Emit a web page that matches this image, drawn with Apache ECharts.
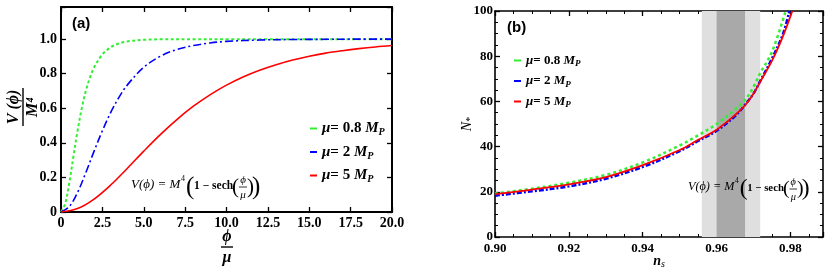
<!DOCTYPE html>
<html><head><meta charset="utf-8">
<script src="https://cdn.jsdelivr.net/npm/echarts@6/dist/echarts.min.js"></script>
<style>html,body{margin:0;padding:0;background:#fff}#c{width:830px;height:274px}</style>
</head><body><div id="c"></div>
<script>
// ---------- Panel (a): V(phi)/M^4 vs phi ----------
const greenPhi = [0,0.25,0.5,0.75,1,1.25,1.5,1.75,2,2.5,3,3.5,4,5,6,8,10,12.5,15,17.5,20];
const greenV   = [0,0.047,0.168,0.321,0.470,0.598,0.700,0.778,0.837,0.912,0.953,0.975,0.987,0.996,0.999,1,1,1,1,1,1];
const bluePhi  = [0,0.5,1,1.5,2,2.5,3,3.5,4,5,6,7,8,9,10,12,14,16,18,20];
const blueV    = [0,0.031,0.113,0.228,0.352,0.470,0.575,0.663,0.734,0.837,0.901,0.940,0.963,0.978,0.987,0.995,0.998,0.999,1,1];
const redPhi   = [0,1,2,3,4,5,6,7,8,9,10,11,12,13,14,15,16,17,18,19,20];
const redV     = [0,0.020,0.075,0.156,0.252,0.352,0.448,0.535,0.612,0.678,0.734,0.781,0.820,0.852,0.879,0.901,0.919,0.933,0.945,0.955,0.963];
const xTicksA  = [0,2.5,5,7.5,10,12.5,15,17.5,20];
const yTicksA  = [0,0.2,0.4,0.6,0.8,1.0];

// ---------- Panel (b): N* vs n_s ----------
const greenNs = [0.90,0.91,0.92,0.93,0.94,0.95,0.955,0.96,0.965,0.9677,0.97,0.9718,0.975,0.9787];
const greenN  = [19.2,21.4,24.0,27.5,33.0,40.5,45.0,50.0,56.5,60.6,66.5,72.5,82.0,100];
const blueNs  = [0.90,0.91,0.92,0.93,0.94,0.95,0.955,0.96,0.965,0.9677,0.97,0.9718,0.975,0.978,0.9797];
const blueN   = [18.3,20.2,22.4,25.8,31.0,38.0,42.5,47.0,53.5,58.5,63.5,69.0,79.0,90.0,100];
const redNs   = [0.90,0.91,0.92,0.93,0.94,0.95,0.955,0.96,0.965,0.9677,0.97,0.9718,0.975,0.978,0.9805];
const redN    = [19.0,21.0,23.3,26.5,31.8,38.5,43.0,47.5,54.0,58.3,63.5,68.7,78.0,89.0,100];
const bandOuter = [0.956, 0.9718];
const bandInner = [0.960, 0.9677];

const legendA = ['μ= 0.8 MP','μ= 2 MP','μ= 5 MP'];
const legendB = ['μ= 0.8 MP ','μ= 2 MP ','μ= 5 MP '];
const legendRich = ['{m|μ}{b|= 0.8 }{m|M}{s|P}','{m|μ}{b|= 2 }{m|M}{s|P}','{m|μ}{b|= 5 }{m|M}{s|P}'];

const SERIF = '"Liberation Serif","Times New Roman",serif';
const SANS = '"Liberation Sans",Arial,sans-serif';
const GREEN = '#33ee33', BLUE = '#0000ff', RED = '#ff0000';

const zip = (xs, ys) => xs.map((x, i) => [x, ys[i]]);

function axis(o) {
  return Object.assign({
    type: 'value',
    splitLine: {show: false},
    axisLine: {show: true, onZero: false, lineStyle: {color: '#000', width: 2}},
    axisTick: {show: true, inside: true, length: 5, lineStyle: {color: '#000', width: 1.3}},
    axisLabel: {show: true, color: '#000', fontFamily: SERIF, fontWeight: 'bold', fontSize: 14}
  }, o);
}

const chart = echarts.init(document.getElementById('c'), null, {renderer: 'canvas'});

function formula(x0, y0, k) {
  const c = '#000';
  const t = (x, y, text, size, style, align, weight) => ({type: 'text', x: x * k, y: y, z: 100, style: {
    text: text, fill: c, fontFamily: SERIF, fontSize: size * k, fontStyle: style || 'normal',
    fontWeight: weight || 'normal', align: align || 'left', verticalAlign: 'middle'}});
  return {type: 'group', x: x0, y: y0, z: 100, silent: true, children: [
    t(0, -2, 'V(ϕ) = M', 13, 'italic'),
    t(50, -8, '4', 8),
    t(55, 0, '(', 25),
    t(63, -1, '1 − sech', 11.5, 'normal', 'left', 'bold'),
    t(101, 0, '(', 21),
    t(112, -7, 'ϕ', 11, 'italic', 'center'),
    {type: 'line', z: 100, shape: {x1: 108 * k, y1: 0, x2: 116 * k, y2: 0}, style: {stroke: c, lineWidth: 0.8}},
    t(112, 8, 'μ', 11, 'italic', 'center'),
    t(116, 0, ')', 21),
    t(121, 0, ')', 25)
  ]};
}

const smoothOpt = {showSymbol: false, smooth: 0.35};

const option = {
  animation: false,
  backgroundColor: '#fff',
  grid: [
    {left: 61, top: 7, width: 331, height: 205},
    {left: 495, top: 11, width: 328, height: 226}
  ],
  xAxis: [
    axis({gridIndex: 0, position: 'bottom', min: 0, max: 20, interval: 2.5,
      axisLabel: {color: '#000', fontFamily: SERIF, fontWeight: 'bold', fontSize: 14, margin: 4,
        formatter: v => (xTicksA.indexOf(v) < 0 ? '' : (v === 0 ? '0' : v.toFixed(1)))}}),
    axis({gridIndex: 0, position: 'top', min: 0, max: 20, interval: 2.5, axisLabel: {show: false}}),
    axis({gridIndex: 1, position: 'bottom', min: 0.9, max: 0.9888, interval: 0.02,
      axisLine: {show: true, onZero: false, lineStyle: {color: '#000', width: 1.6}},
      minorTick: {show: true, splitNumber: 4, length: 3, lineStyle: {color: '#000', width: 1}},
      axisLabel: {color: '#000', fontFamily: SERIF, fontWeight: 'bold', fontSize: 13, margin: 5,
        formatter: v => (v > 0.985 ? '' : v.toFixed(2))}}),
    axis({gridIndex: 1, position: 'top', min: 0.9, max: 0.9888, interval: 0.02,
      axisLine: {show: true, onZero: false, lineStyle: {color: '#000', width: 1.6}},
      minorTick: {show: true, splitNumber: 4, length: 3, lineStyle: {color: '#000', width: 1}},
      axisLabel: {show: false}})
  ],
  yAxis: [
    axis({gridIndex: 0, position: 'left', min: 0, max: 1.186, interval: 0.2,
      axisLabel: {color: '#000', fontFamily: SERIF, fontWeight: 'bold', fontSize: 14, margin: 4,
        formatter: v => (v > 1.05 ? '' : (v === 0 ? '0' : v.toFixed(1)))}}),
    axis({gridIndex: 0, position: 'right', min: 0, max: 1.186, interval: 0.2, axisLabel: {show: false}}),
    axis({gridIndex: 1, position: 'left', min: 0, max: 100, interval: 20,
      axisLine: {show: true, onZero: false, lineStyle: {color: '#000', width: 1.6}},
      minorTick: {show: true, splitNumber: 4, length: 3, lineStyle: {color: '#000', width: 1}},
      axisLabel: {color: '#000', fontFamily: SERIF, fontWeight: 'bold', fontSize: 13, margin: 2}}),
    axis({gridIndex: 1, position: 'right', min: 0, max: 100, interval: 20,
      axisLine: {show: true, onZero: false, lineStyle: {color: '#000', width: 1.6}},
      minorTick: {show: true, splitNumber: 4, length: 3, lineStyle: {color: '#000', width: 1}},
      axisLabel: {show: false}})
  ],
  legend: [
    {data: legendA, left: 305, top: 116, orient: 'vertical', itemWidth: 7, itemHeight: 2, itemGap: 7,
      icon: 'rect', selectedMode: false,
      formatter: n => legendRich[legendA.indexOf(n)],
      textStyle: {rich: {
        m: {fontFamily: SERIF, fontStyle: 'italic', fontWeight: 'bold', fontSize: 15, lineHeight: 18, color: '#000'},
        b: {fontFamily: SERIF, fontWeight: 'bold', fontSize: 15, lineHeight: 18, color: '#000'},
        s: {fontFamily: SERIF, fontStyle: 'italic', fontWeight: 'bold', fontSize: 10, verticalAlign: 'bottom', lineHeight: 13, color: '#000'}
      }}},
    {data: legendB, left: 509, top: 49, orient: 'vertical', itemWidth: 7, itemHeight: 2, itemGap: 6,
      icon: 'rect', selectedMode: false,
      formatter: n => legendRich[legendB.indexOf(n)],
      textStyle: {rich: {
        m: {fontFamily: SERIF, fontStyle: 'italic', fontWeight: 'bold', fontSize: 13, lineHeight: 16, color: '#000'},
        b: {fontFamily: SERIF, fontWeight: 'bold', fontSize: 13, lineHeight: 16, color: '#000'},
        s: {fontFamily: SERIF, fontStyle: 'italic', fontWeight: 'bold', fontSize: 9, verticalAlign: 'bottom', lineHeight: 11, color: '#000'}
      }}}
  ],
  series: [
    Object.assign({name: legendA[0], type: 'line', xAxisIndex: 0, yAxisIndex: 0, data: zip(greenPhi, greenV),
      color: GREEN, lineStyle: {color: GREEN, width: 2, type: [3, 2.5]}}, smoothOpt),
    Object.assign({name: legendA[1], type: 'line', xAxisIndex: 0, yAxisIndex: 0, data: zip(bluePhi, blueV),
      color: BLUE, lineStyle: {color: BLUE, width: 1.6, type: [8, 3, 2, 3]}}, smoothOpt),
    Object.assign({name: legendA[2], type: 'line', xAxisIndex: 0, yAxisIndex: 0, data: zip(redPhi, redV),
      color: RED, lineStyle: {color: RED, width: 1.6}}, smoothOpt),
    Object.assign({name: legendB[0], type: 'line', xAxisIndex: 2, yAxisIndex: 2, data: zip(greenNs, greenN),
      color: GREEN, lineStyle: {color: GREEN, width: 2.5, type: [3, 3]},
      markArea: {silent: true, data: [
        [{xAxis: bandOuter[0], itemStyle: {color: '#dfdfdf'}}, {xAxis: bandOuter[1]}],
        [{xAxis: bandInner[0], itemStyle: {color: '#a9a9a9'}}, {xAxis: bandInner[1]}]
      ]}}, smoothOpt),
    Object.assign({name: legendB[1], type: 'line', xAxisIndex: 2, yAxisIndex: 2, data: zip(blueNs, blueN),
      color: BLUE, lineStyle: {color: BLUE, width: 2.5, type: [5, 2, 2, 2]}}, smoothOpt),
    Object.assign({name: legendB[2], type: 'line', xAxisIndex: 2, yAxisIndex: 2, data: zip(redNs, redN),
      color: RED, lineStyle: {color: RED, width: 1.8}}, smoothOpt)
  ],
  graphic: [
    {type: 'text', x: 72, y: 24, z: 100, style: {text: '(a)', fontFamily: SANS, fontWeight: 'bold', fontSize: 15, fill: '#000', verticalAlign: 'middle'}},
    {type: 'text', x: 507, y: 28, z: 100, style: {text: '(b)', fontFamily: SANS, fontWeight: 'bold', fontSize: 15, fill: '#000', verticalAlign: 'middle'}},
    {type: 'group', x: 23, y: 107, rotation: Math.PI / 2, children: [
      {type: 'text', x: 0, y: -9, style: {text: 'V (ϕ)', fontFamily: SERIF, fontStyle: 'italic', fontWeight: 'bold', fontSize: 16, fill: '#000', align: 'center', verticalAlign: 'middle'}},
      {type: 'line', shape: {x1: -19, y1: 0, x2: 19, y2: 0}, style: {stroke: '#000', lineWidth: 1.4}},
      {type: 'text', x: 0, y: 10, style: {text: 'M⁴', fontFamily: SERIF, fontStyle: 'italic', fontWeight: 'bold', fontSize: 16, fill: '#000', align: 'center', verticalAlign: 'middle'}}
    ]},
    {type: 'group', x: 227, y: 247, children: [
      {type: 'text', x: 0, y: -10, style: {text: 'ϕ', fontFamily: SERIF, fontStyle: 'italic', fontWeight: 'bold', fontSize: 16, fill: '#000', align: 'center', verticalAlign: 'middle'}},
      {type: 'line', shape: {x1: -6, y1: 0, x2: 6, y2: 0}, style: {stroke: '#000', lineWidth: 1.4}},
      {type: 'text', x: 0, y: 11, style: {text: 'μ', fontFamily: SERIF, fontStyle: 'italic', fontWeight: 'bold', fontSize: 16, fill: '#000', align: 'center', verticalAlign: 'middle'}}
    ]},
    {type: 'text', x: 467, y: 124, rotation: Math.PI / 2, style: {text: '{n|N}{s|*}', align: 'center', verticalAlign: 'middle',
      rich: {n: {fontFamily: SERIF, fontStyle: 'italic', fontSize: 14, lineHeight: 16, fill: '#000'},
             s: {fontFamily: SERIF, fontSize: 10, verticalAlign: 'bottom', lineHeight: 10, fill: '#000'}}}},
    {type: 'text', x: 659, y: 261, style: {text: '{n|n}{s|s}', align: 'center', verticalAlign: 'middle',
      rich: {n: {fontFamily: SERIF, fontStyle: 'italic', fontWeight: 'bold', fontSize: 14, lineHeight: 16, fill: '#000'},
             s: {fontFamily: SERIF, fontStyle: 'italic', fontSize: 10, verticalAlign: 'bottom', lineHeight: 11, fill: '#000'}}}},
    formula(131, 187, 1),
    formula(688, 189, 0.94)
  ]
};
chart.setOption(option);
</script></body></html>
